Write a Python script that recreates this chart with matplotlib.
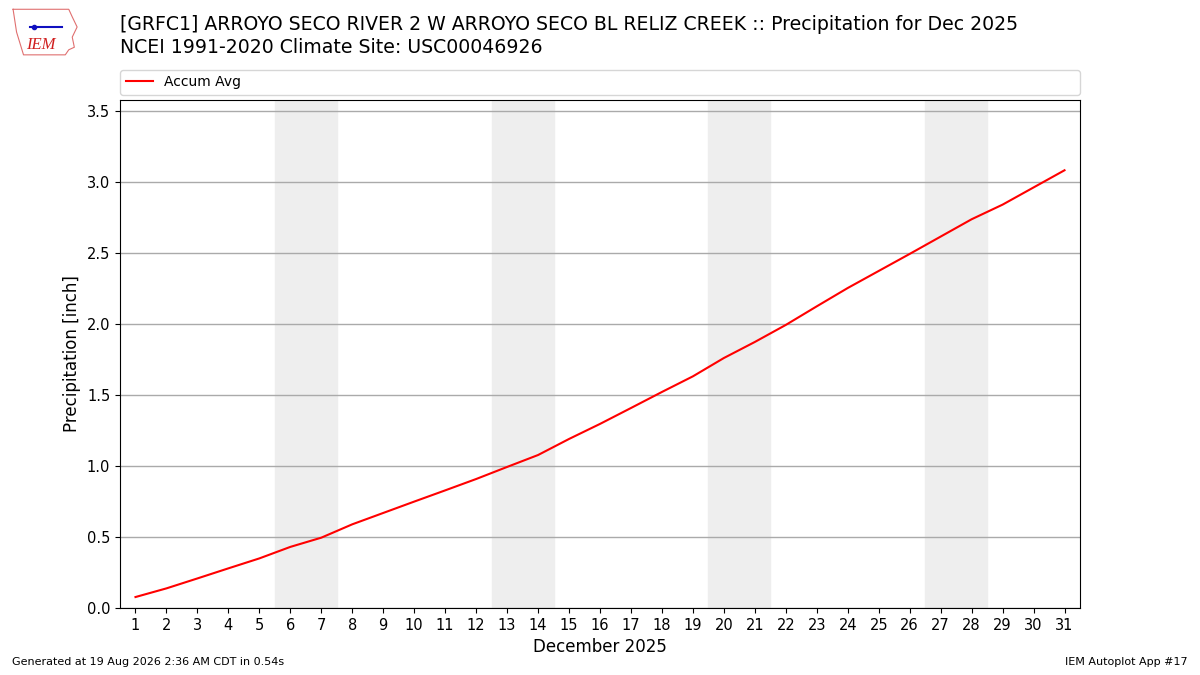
import matplotlib
matplotlib.use("Agg")
import matplotlib.pyplot as plt
import numpy as np

days = list(range(1, 32))
accum_avg = [0.077, 0.138, 0.208, 0.279, 0.349, 0.430, 0.495, 0.589, 0.669, 0.749,
             0.828, 0.908, 0.993, 1.077, 1.190, 1.296, 1.408, 1.521, 1.631, 1.760,
             1.873, 1.993, 2.124, 2.253, 2.373, 2.493, 2.615, 2.737, 2.840, 2.961,
             3.082]
weekends = [(6, 7), (13, 14), (20, 21), (27, 28)]

fig = plt.figure(figsize=(12, 6.75), dpi=100)
ax = fig.add_axes([0.1, 0.0993, 0.8, 0.7526])

for a, b in weekends:
    ax.axvspan(a - 0.5, b + 0.5, color="#eeeeee", zorder=0)

ax.plot(days, accum_avg, color="red", lw=1.5, label="Accum Avg", zorder=3)

ax.set_xlim(0.5, 31.5)
ax.set_ylim(0, 3.577)
ax.set_xticks(days)
ax.set_yticks(np.arange(0, 3.51, 0.5))
ax.tick_params(labelsize=10.5)
ax.grid(axis="y", color="#aaaaaa", lw=1, zorder=1)
ax.set_axisbelow(True)
ax.set_xlabel("December 2025", fontsize=12)
ax.set_ylabel("Precipitation [inch]", fontsize=12)

ax.legend(loc="lower left", bbox_to_anchor=(0, 1.01, 1, 0.05), mode="expand",
          fontsize=10, frameon=True, borderaxespad=0)

fig.text(0.1, 0.947, "[GRFC1] ARROYO SECO RIVER 2 W ARROYO SECO BL RELIZ CREEK :: Precipitation for Dec 2025\n"
         "NCEI 1991-2020 Climate Site: USC00046926", fontsize=13.6, va="center", ha="left",
         linespacing=1.3)

# rough IEM logo
logo = fig.add_axes([0.008, 0.915, 0.058, 0.075])
shape_x = [0.05, 0.85, 0.9, 0.97, 0.9, 0.93, 0.85, 0.8, 0.2, 0.1, 0.05]
shape_y = [0.95, 0.95, 0.8, 0.6, 0.4, 0.2, 0.15, 0.05, 0.05, 0.5, 0.95]
logo.plot(shape_x, shape_y, color="#e07070", lw=0.8)
logo.plot([0.3, 0.75], [0.6, 0.6], color="#1010c0", lw=1.5)
logo.plot([0.35], [0.6], "o", color="#1010c0", ms=3)
logo.text(0.45, 0.25, "IEM", color="#d02020", fontsize=12, family="Liberation Serif",
          style="italic", ha="center", va="center")
logo.set_xlim(0, 1)
logo.set_ylim(0, 1)
logo.axis("off")

fig.text(0.01, 0.015, "Generated at 19 Aug 2026 2:36 AM CDT in 0.54s", fontsize=8)
fig.text(0.99, 0.015, "IEM Autoplot App #17", fontsize=8, ha="right")

fig.savefig("out.png", dpi=100)
